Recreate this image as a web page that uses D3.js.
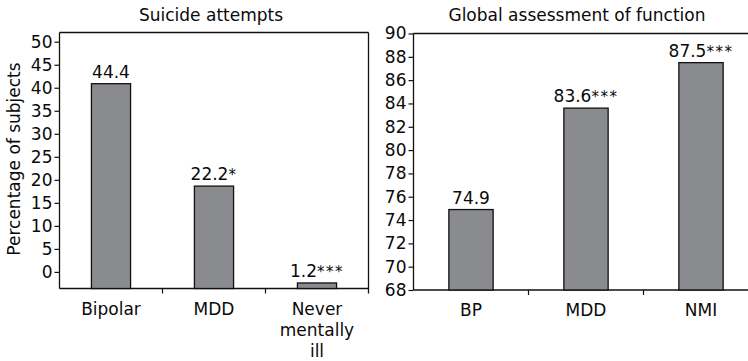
<!DOCTYPE html>
<html>
<head>
<meta charset="utf-8">
<script src="https://cdn.jsdelivr.net/npm/d3@7"></script>
<style>
  html, body { margin: 0; padding: 0; background: #fff; }
  svg { display: block; }
  text { font-family: "DejaVu Sans", "Liberation Sans", sans-serif; fill: #0a0a0a; }
</style>
</head>
<body>
<svg id="chart" width="748" height="361"></svg>
<script>
// Suicide attempts panel
const attemptGroups = ["Bipolar", "MDD", "Never mentally ill"];
const attemptValues = [44.4, 22.2, 1.2];
const attemptLabels = ["44.4", "22.2", "1.2"];
const attemptStars = ["", "*", "***"];
const attemptTicks = [0, 5, 10, 15, 20, 25, 30, 35, 40, 45, 50];

// Global assessment of function panel
const gafGroups = ["BP", "MDD", "NMI"];
const gafValues = [74.9, 83.6, 87.5];
const gafLabels = ["74.9", "83.6", "87.5"];
const gafStars = ["", "***", "***"];
const gafTicks = [68, 70, 72, 74, 76, 78, 80, 82, 84, 86, 88, 90];

const svg = d3.select("#chart");
const barFill = "#8a8b8e";
const fs = 17;

function drawPanel(cfg) {
  const g = svg.append("g");
  const { left, right, top, bottom } = cfg;

  const x = d3.scaleBand().domain(cfg.groups).range([left, right]).padding(0);
  const barW = x.bandwidth() * cfg.barFrac;

  // Scale for bar heights and scale for the printed y axis
  const barY = d3.scaleLinear().domain(cfg.barDomain).range([bottom, top]);
  const tickY = d3.scaleLinear().domain(cfg.tickDomain).range([bottom, top]);

  // frame: top edge, bottom edge, optional right edge
  g.append("line").attr("x1", left).attr("x2", cfg.frameRight).attr("y1", top).attr("y2", top)
    .attr("stroke", "#111").attr("stroke-width", 1.3);
  g.append("line").attr("x1", left).attr("x2", cfg.frameRight).attr("y1", bottom).attr("y2", bottom)
    .attr("stroke", "#111").attr("stroke-width", 1.3);
  if (cfg.rightEdge) {
    g.append("line").attr("x1", right).attr("x2", right).attr("y1", top).attr("y2", bottom + 5)
      .attr("stroke", "#111").attr("stroke-width", 1.3);
  }

  // category separators below the axis
  cfg.groups.slice(1).forEach(c => {
    g.append("line").attr("x1", x(c)).attr("x2", x(c)).attr("y1", bottom).attr("y2", bottom + 5)
      .attr("stroke", "#111").attr("stroke-width", 1.2);
  });

  // y axis
  const yAxis = g.append("g").attr("transform", `translate(${left},0)`)
    .call(d3.axisLeft(tickY).tickValues(cfg.ticks).tickSize(5).tickSizeOuter(0).tickPadding(2)
      .tickFormat(d3.format("d")));
  yAxis.select(".domain").attr("d", `M0,${top}V${bottom}`).attr("stroke", "#111").attr("stroke-width", 1.3);
  yAxis.selectAll(".tick line").attr("stroke", "#111").attr("stroke-width", 1.2);
  yAxis.selectAll(".tick text").attr("font-size", fs).attr("fill", "#0a0a0a")
    .attr("font-family", '"DejaVu Sans", sans-serif');

  // bars
  g.selectAll("rect.bar").data(cfg.values).join("rect")
    .attr("class", "bar")
    .attr("x", (d, i) => x(cfg.groups[i]) + x.bandwidth() / 2 - barW / 2)
    .attr("width", barW)
    .attr("y", d => barY(d))
    .attr("height", d => barY(cfg.barDomain[0]) - barY(d))
    .attr("fill", barFill).attr("stroke", "#111").attr("stroke-width", 1.3);

  // value labels with significance stars
  const lbl = g.selectAll("text.val").data(cfg.values).join("text")
    .attr("class", "val")
    .attr("x", (d, i) => x(cfg.groups[i]) + x.bandwidth() / 2)
    .attr("y", d => barY(d) - 6)
    .attr("text-anchor", "middle")
    .attr("font-size", fs);
  lbl.append("tspan").text((d, i) => cfg.labels[i]);
  lbl.append("tspan").attr("font-size", 15).attr("letter-spacing", 1.5)
    .text((d, i) => cfg.stars[i]);

  // category labels (wrapped where needed)
  cfg.groups.forEach((c, i) => {
    const lines = cfg.wrap[i];
    const t = g.append("text").attr("text-anchor", "middle").attr("font-size", fs)
      .attr("x", x(c) + x.bandwidth() / 2).attr("y", bottom + 26);
    lines.forEach((ln, k) => {
      t.append("tspan").attr("x", x(c) + x.bandwidth() / 2).attr("dy", k === 0 ? 0 : 21).text(ln);
    });
  });

  // title
  g.append("text").attr("x", cfg.titleX).attr("y", 21).attr("text-anchor", "middle")
    .attr("font-size", fs).text(cfg.title);

  return g;
}

drawPanel({
  title: "Suicide attempts", titleX: 211,
  groups: attemptGroups, values: attemptValues, labels: attemptLabels, stars: attemptStars,
  wrap: [["Bipolar"], ["MDD"], ["Never", "mentally", "ill"]],
  ticks: attemptTicks,
  left: 59.5, right: 368.5, top: 32.5, bottom: 288.5, frameRight: 368.5, rightEdge: true,
  barDomain: [0, 55.5], tickDomain: [-3.6, 52.0], barFrac: 0.38
});

drawPanel({
  title: "Global assessment of function", titleX: 577,
  groups: gafGroups, values: gafValues, labels: gafLabels, stars: gafStars,
  wrap: [["BP"], ["MDD"], ["NMI"]],
  ticks: gafTicks,
  left: 413.5, right: 758.5, top: 33.5, bottom: 290, frameRight: 748, rightEdge: false,
  barDomain: [68, 90], tickDomain: [68, 90], barFrac: 0.385
});

// y axis title for the left panel
svg.append("text")
  .attr("transform", "translate(20,159) rotate(-90)")
  .attr("text-anchor", "middle").attr("font-size", fs)
  .text("Percentage of subjects");
</script>
</body>
</html>
